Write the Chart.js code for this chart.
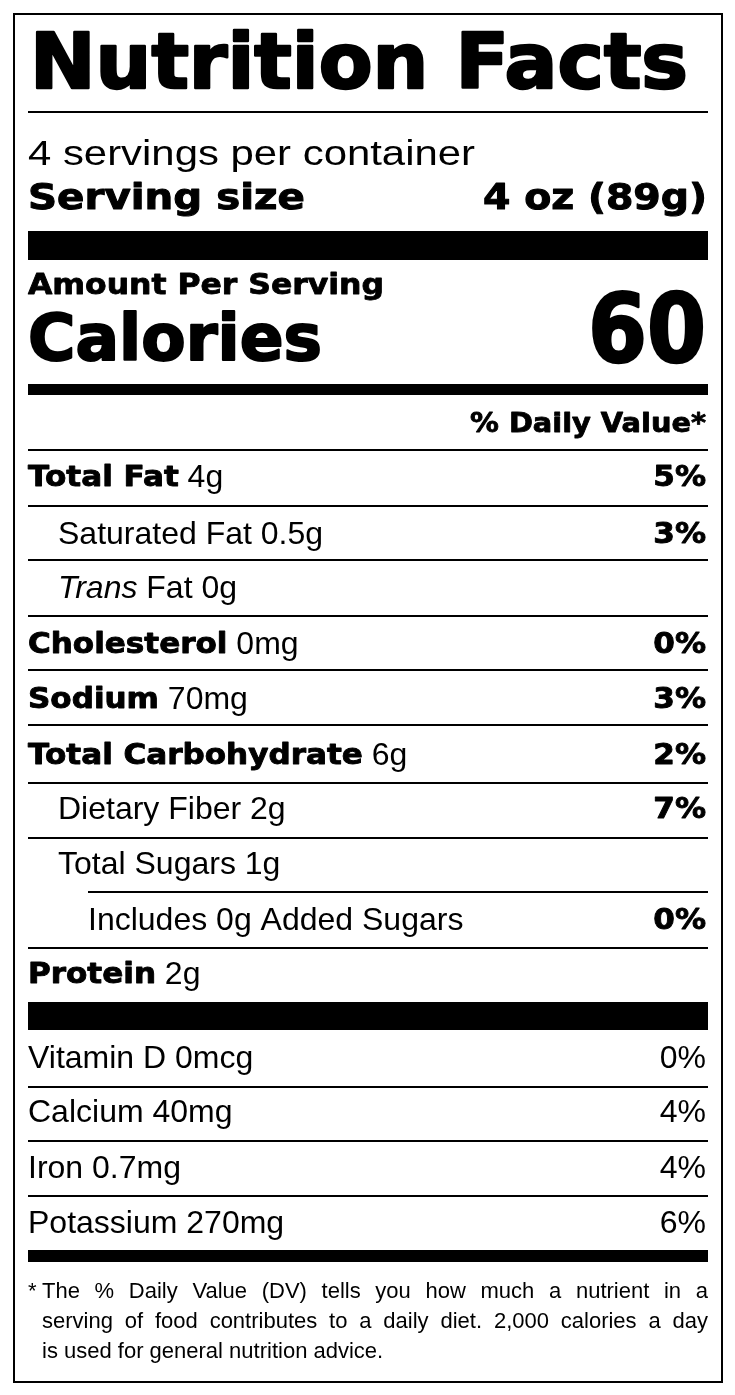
<!DOCTYPE html>
<html><head><meta charset="utf-8">
<script src="https://cdn.jsdelivr.net/npm/chart.js@4"></script>
<style>html,body{margin:0;padding:0;background:#fff}#wrap{width:735px;height:1395px}</style>
</head><body><div id="wrap"><canvas id="c" width="735" height="1395"></canvas></div>
<script>
const servingsText = '4 servings per container';
const servingSize = '4 oz (89g)';
const calories = '60';
const nutrients = ['Total Fat','Saturated Fat','Trans Fat','Cholesterol','Sodium','Total Carbohydrate','Dietary Fiber','Total Sugars','Includes 0g Added Sugars','Protein'];
const amounts = ['4g','0.5g','0g','0mg','70mg','6g','2g','1g','','2g'];
const dailyValues = ['5%','3%','','0%','3%','2%','7%','','0%',''];
const vitamins = ['Vitamin D','Calcium','Iron','Potassium'];
const vitaminAmounts = ['0mcg','40mg','0.7mg','270mg'];
const vitaminDV = ['0%','4%','4%','6%'];
const footnote = ['The % Daily Value (DV) tells you how much a nutrient in a','serving of food contributes to a daily diet. 2,000 calories a day','is used for general nutrition advice.'];

const FONT = '"Liberation Sans", Arial, sans-serif';
const BFONT = '"DejaVu Sans", sans-serif';
const BK = 1.07;

const labelPlugin = {
  id: 'label',
  afterDraw(chart) {
    const ctx = chart.ctx;
    ctx.save();
    ctx.fillStyle = '#fff'; ctx.fillRect(0,0,735,1395);
    ctx.fillStyle = '#000'; ctx.strokeStyle = '#000';
    ctx.lineWidth = 2; ctx.strokeRect(14,14,708,1368);
    ctx.textBaseline = 'middle';
    const L = 28, R = 708;
    function hl(y, h, x1) { ctx.fillRect(x1 || L, y, R - (x1 || L), h); }
    function txt(s, x, y, font, align, opts) {
      opts = opts || {};
      ctx.font = font;
      let w = ctx.measureText(s).width;
      let k = opts.width ? opts.width / w : (opts.k || 1);
      ctx.save();
      ctx.translate(x, y); ctx.scale(k, 1);
      ctx.textAlign = align || 'left';
      ctx.fillText(s, 0, 0);
      if (opts.stroke) { ctx.lineWidth = opts.stroke; ctx.lineJoin = 'round'; ctx.strokeText(s, 0, 0); }
      ctx.restore();
      return w * k;
    }
    txt('Nutrition Facts', 30, 68, 'bold 76px ' + BFONT, 'left', {width: 658, stroke: 2.5});
    hl(111, 2);
    txt(servingsText, L, 155, '35px ' + FONT, 'left', {width: 447});
    txt('Serving size', L, 200, 'bold 35px ' + BFONT, 'left', {width: 277, stroke: 1});
    txt(servingSize, 707, 200, 'bold 35px ' + BFONT, 'right', {width: 224, stroke: 1});
    hl(231, 29);
    txt('Amount Per Serving', L, 287, 'bold 28px ' + BFONT, 'left', {width: 356, stroke: 0.8});
    txt('Calories', L, 343, 'bold 64px ' + BFONT, 'left', {width: 294, stroke: 2});
    txt(calories, 706, 338, 'bold 94px ' + BFONT, 'right', {width: 118, stroke: 2.5});
    hl(384, 11);
    txt('% Daily Value*', 706, 425, 'bold 26px ' + BFONT, 'right', {width: 236, stroke: 0.8});
    hl(449, 2);
    const rowY = [478,535,589,645,700,756,810,865,921,975];
    const lineY = [505,559,615,669,724,782,837,891,947];
    const indent = [28,58,58,28,28,28,58,58,88,28];
    const boldLabel = [true,false,false,true,true,true,false,false,false,true];
    const RF = '32px ' + FONT;
    nutrients.forEach((n, i) => {
      let x = indent[i], y = rowY[i];
      if (n === 'Trans Fat') {
        x += txt('Trans', x, y, 'italic 32px ' + FONT);
        txt(' Fat ' + amounts[i], x, y, RF);
      } else if (boldLabel[i]) {
        x += txt(n, x, y, 'bold 29px ' + BFONT, 'left', {k: BK, stroke: 0.9});
        txt(' ' + amounts[i], x, y, RF);
      } else {
        txt(n + (amounts[i] ? ' ' + amounts[i] : ''), x, y, RF);
      }
      if (dailyValues[i]) txt(dailyValues[i], 706, y, 'bold 29px ' + BFONT, 'right', {k: BK, stroke: 0.9});
      if (i < lineY.length) hl(lineY[i], 2, i === 7 ? 88 : L);
    });
    hl(1002, 28);
    const vY = [1059,1113,1169,1224];
    vitamins.forEach((v, i) => {
      txt(v + ' ' + vitaminAmounts[i], L, vY[i], RF);
      txt(vitaminDV[i], 706, vY[i], RF, 'right');
      if (i < 3) hl([1086,1140,1195][i], 2);
    });
    hl(1250, 12);
    ctx.font = '22px ' + FONT;
    ctx.textAlign = 'left';
    ctx.fillText('*', L, 1292);
    const fy = [1292,1322,1352];
    footnote.forEach((line, i) => {
      const x0 = 42;
      const words = line.split(' ');
      if (i === footnote.length - 1) { ctx.fillText(line, x0, fy[i]); return; }
      const sum = words.reduce((a, w) => a + ctx.measureText(w).width, 0);
      const gap = (R - x0 - sum) / (words.length - 1);
      let x = x0;
      words.forEach(w => { ctx.fillText(w, x, fy[i]); x += ctx.measureText(w).width + gap; });
    });
    ctx.restore();
  }
};

new Chart(document.getElementById('c'), {
  type: 'bar',
  data: { labels: nutrients, datasets: [] },
  options: {
    responsive: false, animation: false,
    plugins: { legend: { display: false }, tooltip: { enabled: false } },
    scales: { x: { display: false }, y: { display: false } }
  },
  plugins: [labelPlugin]
});
</script></body></html>
